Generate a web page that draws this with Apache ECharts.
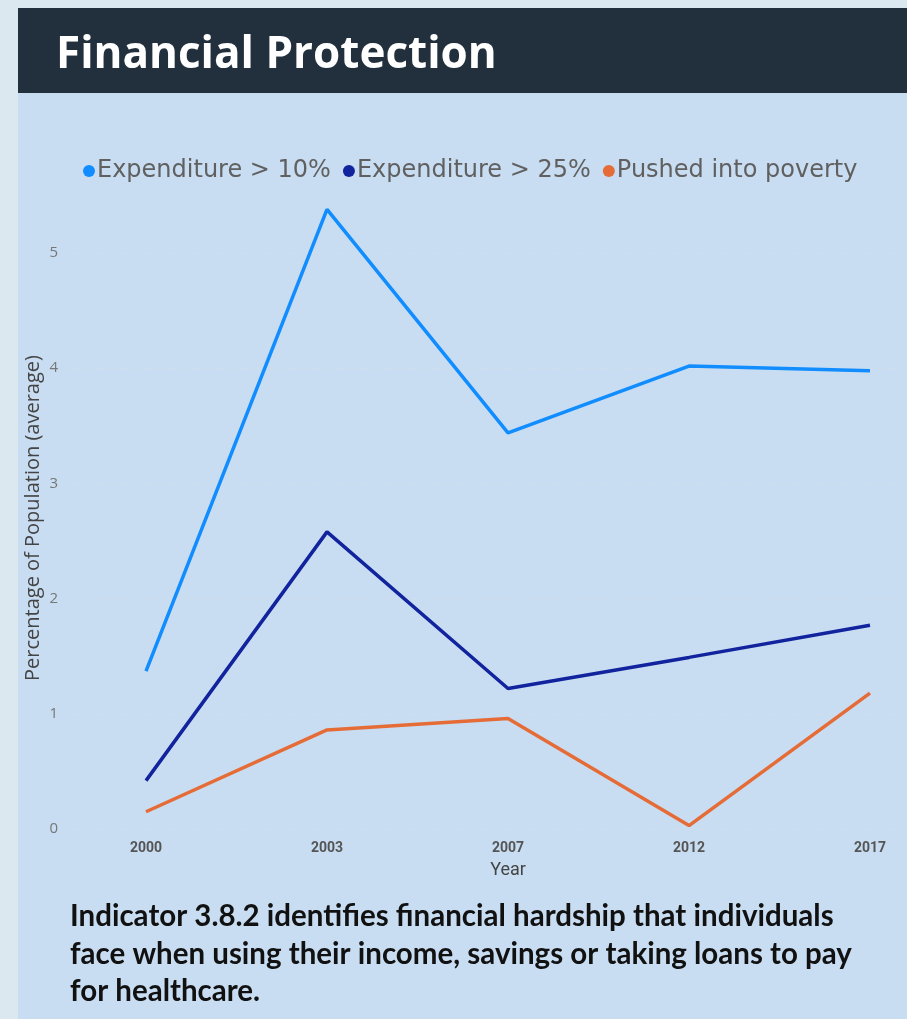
<!DOCTYPE html>
<html>
<head>
<meta charset="utf-8">
<script src="https://cdn.jsdelivr.net/npm/echarts@6/dist/echarts.min.js"></script>
<style>
  html, body { margin: 0; padding: 0; background: #dce8ef; }
  #main { width: 907px; height: 1019px; }
</style>
</head>
<body>
<div id="main"></div>
<script>
// 财务保护 - 折线图
var years = ['2000', '2003', '2007', '2012', '2017'];
var exp10 = [1.37, 5.38, 3.44, 4.02, 3.98];
var exp25 = [0.42, 2.58, 1.22, 1.49, 1.77];
var poverty = [0.15, 0.86, 0.96, 0.03, 1.18];
var seriesNames = ['Expenditure > 10%', 'Expenditure > 25%', 'Pushed into poverty'];
var colors = ['#118DFF', '#12239E', '#E66C37'];

var myChart = echarts.init(document.getElementById('main'));

function lineSeries(name, data, color) {
	return {
		name: name,
		type: 'line',
		xAxisIndex: 1,
		yAxisIndex: 1,
		data: data,
		showSymbol: false,
		itemStyle: { color: color },
		lineStyle: { width: 3.5, color: color }
	};
}

var option = {
	backgroundColor: '#dce8ef',
	color: colors,
	graphic: [
		{ type: 'rect', shape: { x: 18, y: 93, width: 889, height: 926 }, style: { fill: '#c8ddf2' }, z: -10 },
		{ type: 'rect', shape: { x: 18, y: 8, width: 889, height: 85 }, style: { fill: '#222f3d' }, z: -10 },
		{
			type: 'text', left: 56, top: 33,
			style: { text: 'Financial Protection', fill: '#ffffff', font: 'bold 44px "Open Sans"' }
		},
		{
			type: 'text', x: 33, y: 518, rotation: Math.PI / 2,
			style: {
				text: 'Percentage of Population (average)', fill: '#444',
				font: '20px "Open Sans"', align: 'center', verticalAlign: 'middle'
			}
		},
		{
			type: 'text', left: 70, top: 898,
			style: {
				text: 'Indicator 3.8.2 identifies financial hardship that individuals\nface when using their income, savings or taking loans to pay\nfor healthcare.',
				fill: '#111', font: 'bold 29.5px Lato', lineHeight: 37.5
			}
		}
	],
	legend: {
		left: 78,
		top: 154,
		icon: 'circle',
		itemWidth: 12,
		itemHeight: 12,
		itemGap: 12,
		data: seriesNames,
		textStyle: { fontSize: 24, color: '#606060', fontFamily: 'DejaVu Sans', padding: [0, 0, 0, -3] }
	},
	grid: [
		{ left: 72, right: 0, top: 253, bottom: 190 },
		{ left: 146, right: 37, top: 138, bottom: 190 }
	],
	xAxis: [
		{ gridIndex: 0, type: 'value', show: false },
		{
			gridIndex: 1,
			type: 'category',
			boundaryGap: false,
			data: years,
			axisLine: { show: false },
			axisTick: { show: false },
			axisLabel: {
				margin: 12, color: '#555', fontSize: 14, fontWeight: 'bold',
				fontFamily: 'Roboto'
			},
			name: 'Year',
			nameLocation: 'middle',
			nameGap: 32,
			nameTextStyle: { color: '#444', fontSize: 18, fontFamily: 'Roboto' }
		}
	],
	yAxis: [
		{
			gridIndex: 0,
			type: 'value',
			min: 0,
			max: 5,
			interval: 1,
			axisLine: { show: false },
			axisTick: { show: false },
			axisLabel: { margin: 14, color: '#777', fontSize: 15, fontFamily: 'Open Sans' },
			splitLine: { lineStyle: { color: '#d5dde6', type: [2, 4], width: 1 } }
		},
		{ gridIndex: 1, type: 'value', min: 0, max: 6, show: false, splitLine: { show: false } }
	],
	series: [
		lineSeries(seriesNames[0], exp10, colors[0]),
		lineSeries(seriesNames[1], exp25, colors[1]),
		lineSeries(seriesNames[2], poverty, colors[2])
	]
};

myChart.setOption(option);
</script>
</body>
</html>
